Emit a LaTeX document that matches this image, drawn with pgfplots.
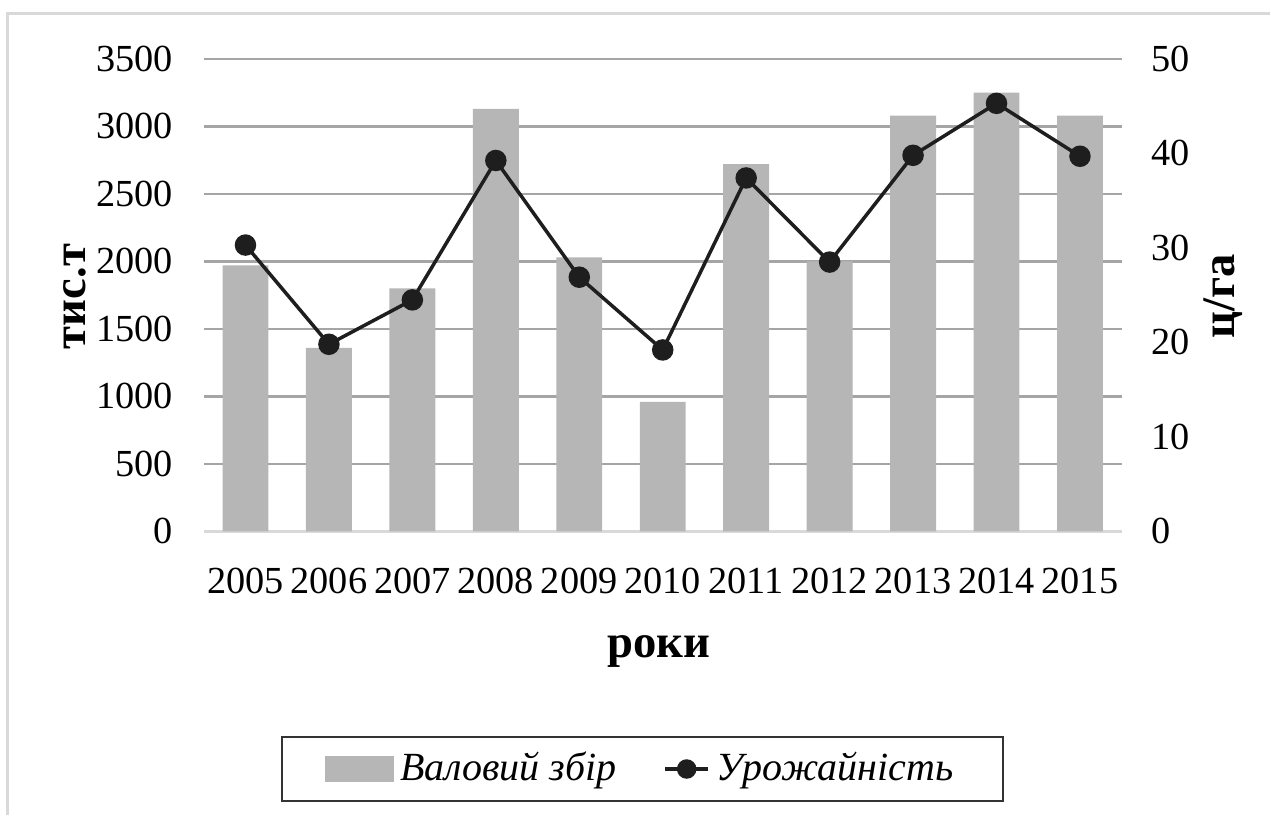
\documentclass[border=0pt]{standalone}
\usepackage{fontspec}
\setmainfont{Liberation Serif}
\usepackage{pgfplots}
\usepackage{pgfplotstable}
\pgfplotsset{compat=1.18}

\definecolor{barfill}{RGB}{182,182,182}
\definecolor{gridgray}{RGB}{165,165,165}
\definecolor{linecol}{RGB}{30,30,30}

% x  year  gross harvest (thous. t)  yield (c/ha)
\pgfplotstableread{
x  year harvest yield
0  2005 1970    30.3
1  2006 1360    19.8
2  2007 1800    24.5
3  2008 3130    39.25
4  2009 2030    26.9
5  2010 960     19.2
6  2011 2720    37.4
7  2012 2000    28.5
8  2013 3080    39.8
9  2014 3250    45.3
10 2015 3080    39.7
}\data

\begin{document}
\begin{tikzpicture}
\pgfplotsset{
  every axis/.append style={
    width=275.7pt, height=141.9pt, scale only axis,
    xmin=-0.5, xmax=10.5,
    major tick length=0pt,
    tick label style={font=\fontsize{11.5}{13}\selectfont},
    /pgf/number format/assume math mode=true,
    /pgf/number format/1000 sep={},
  },
}
\begin{axis}[
  ymin=0, ymax=3500, ytick distance=500,
  axis y line*=left, axis x line*=bottom,
  y axis line style={draw=none},
  x axis line style={draw=black!15, line width=0.8pt, -},
  ymajorgrids, grid style={draw=gridgray, line width=0.7pt},
  xtick=data, xticklabels from table={\data}{year},
  xticklabel style={yshift=-7.6pt},
  yticklabel style={xshift=-5.8pt},
  xlabel={роки},
  xlabel style={font=\bfseries\fontsize{14}{16}\selectfont,
    at={(rel axis cs:0.496,-0.2537)}, anchor=center},
  ylabel={тис.т},
  ylabel style={font=\bfseries\fontsize{14}{16}\selectfont,
    at={(rel axis cs:-0.1404,0.497)}, anchor=center},
]
  \addplot[ybar, bar width=0.55, fill=barfill, draw=none]
    table[x=x, y=harvest] {\data};
\end{axis}
\begin{axis}[
  ymin=0, ymax=50, ytick distance=10,
  axis y line*=right, axis x line=none,
  y axis line style={draw=none},
  yticklabel style={xshift=5.5pt},
  ylabel={ц/га},
  ylabel style={font=\bfseries\fontsize{14}{16}\selectfont,
    at={(rel axis cs:1.111,0.497)}, anchor=center},
  legend columns=-1,
  legend style={at={(0.478,-0.503)}, anchor=center,
    draw=black!80, line width=0.6pt,
    font=\itshape\fontsize{12}{14}\selectfont,
    inner xsep=13pt, inner ysep=2.5pt,
    /tikz/every even column/.append style={column sep=12pt}},
  legend cell align=left,
]
  \addlegendimage{legend image code/.code={
    \fill[barfill] (0pt,-3.5pt) rectangle (20pt,3.5pt);}}
  \addlegendentry{Валовий збір}
  \addplot[linecol, line width=1.05pt, mark=*, mark size=2.7pt,
    mark options={fill=linecol, draw=linecol},
    legend image code/.code={
      \draw[linecol, line width=1.05pt] (0pt,0pt) -- (13pt,0pt);
      \fill[linecol] (6.5pt,0pt) circle (2.4pt);}]
    table[x=x, y=yield] {\data};
  \addlegendentry{Урожайність}
\end{axis}
\pgfresetboundingbox
\path ([shift={(-61.2pt,-85.2pt)}]current axis.south west)
  rectangle ([shift={(320.1pt,159.6pt)}]current axis.south west);
\draw[black!15, line width=0.9pt]
  ([shift={(-58.8pt,-85.2pt)}]current axis.south west)
  -- ([shift={(-58.8pt,155.4pt)}]current axis.south west)
  -- ([shift={(320.1pt,155.4pt)}]current axis.south west);
\end{tikzpicture}
\end{document}
